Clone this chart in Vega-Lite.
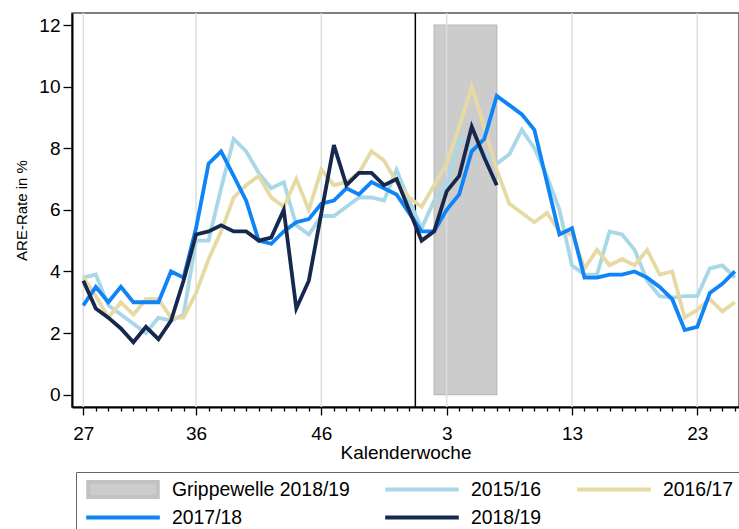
{
  "$schema": "https://vega.github.io/schema/vega-lite/v6.json",
  "width": 667,
  "height": 394,
  "autosize": "none",
  "padding": {"left": 72, "top": 13, "right": 0, "bottom": 122},
  "config": {
    "font": "Liberation Sans",
    "view": {"stroke": "#555555", "strokeWidth": 1.5}
  },
  "layer": [
    {
      "data": {"values": [{"i": 28, "i2": 33, "v": 0, "v2": 12}]},
      "mark": {"type": "rect", "fill": "#cccccc", "stroke": "#b9b9b9", "strokeWidth": 1.2},
      "encoding": {
        "x": {"field": "i", "type": "quantitative", "scale": {"domain": [-0.9, 52.33], "nice": false, "zero": false}, "title": "Kalenderwoche",
          "axis": {
            "values": [0,1,2,3,4,5,6,7,8,9,10,11,12,13,14,15,16,17,18,19,20,21,22,23,24,25,26,27,28,29,30,31,32,33,34,35,36,37,38,39,40,41,42,43,44,45,46,47,48,49,50,51,52],
            "labelExpr": "indexof([0,9,19,29,39,49], datum.value) >= 0 ? (datum.value <= 25 ? datum.value + 27 : datum.value - 26) : ''",
            "tickSize": {"condition": {"test": "indexof([0,9,19,29,39,49], datum.value) >= 0", "value": 8}, "value": 4},
            "grid": false, "domainColor": "black", "domainWidth": 2, "tickColor": "black", "tickWidth": 1.3,
            "labelFontSize": 19, "labelColor": "black", "labelPadding": 9, "labelOverlap": false, "labelFlush": false,
            "titleFontSize": 19, "titleFontWeight": "normal", "titleColor": "black", "titlePadding": 0
          }
        },
        "x2": {"field": "i2"},
        "y": {"field": "v", "type": "quantitative", "scale": {"domain": [-0.4, 12.39], "nice": false, "zero": false}, "title": "ARE-Rate in %",
          "axis": {
            "values": [0,2,4,6,8,10,12],
            "grid": false, "domainColor": "black", "domainWidth": 2, "tickColor": "black", "tickWidth": 1.3, "tickSize": 9,
            "labelFontSize": 19, "labelColor": "black", "labelPadding": 3,
            "titleFontSize": 15, "titleFontWeight": "normal", "titleColor": "black", "titlePadding": 9
          }
        },
        "y2": {"field": "v2"}
      }
    },
    {
      "data": {"values": [{"i": 0}, {"i": 9}, {"i": 19}, {"i": 29}, {"i": 39}, {"i": 49}]},
      "mark": {"type": "rule", "color": "#dddddd", "strokeWidth": 1.5},
      "encoding": {
        "x": {"field": "i", "type": "quantitative", "scale": {"domain": [-0.9, 52.33], "nice": false, "zero": false}, "title": "Kalenderwoche",
          "axis": {
            "values": [0,1,2,3,4,5,6,7,8,9,10,11,12,13,14,15,16,17,18,19,20,21,22,23,24,25,26,27,28,29,30,31,32,33,34,35,36,37,38,39,40,41,42,43,44,45,46,47,48,49,50,51,52],
            "labelExpr": "indexof([0,9,19,29,39,49], datum.value) >= 0 ? (datum.value <= 25 ? datum.value + 27 : datum.value - 26) : ''",
            "tickSize": {"condition": {"test": "indexof([0,9,19,29,39,49], datum.value) >= 0", "value": 8}, "value": 4},
            "grid": false, "domainColor": "black", "domainWidth": 2, "tickColor": "black", "tickWidth": 1.3,
            "labelFontSize": 19, "labelColor": "black", "labelPadding": 9, "labelOverlap": false, "labelFlush": false,
            "titleFontSize": 19, "titleFontWeight": "normal", "titleColor": "black", "titlePadding": 0
          }
        }
      }
    },
    {
      "data": {"values": [{"i": 26.5}]},
      "mark": {"type": "rule", "color": "black", "strokeWidth": 1.5},
      "encoding": {
        "x": {"field": "i", "type": "quantitative", "scale": {"domain": [-0.9, 52.33], "nice": false, "zero": false}, "title": "Kalenderwoche",
          "axis": {
            "values": [0,1,2,3,4,5,6,7,8,9,10,11,12,13,14,15,16,17,18,19,20,21,22,23,24,25,26,27,28,29,30,31,32,33,34,35,36,37,38,39,40,41,42,43,44,45,46,47,48,49,50,51,52],
            "labelExpr": "indexof([0,9,19,29,39,49], datum.value) >= 0 ? (datum.value <= 25 ? datum.value + 27 : datum.value - 26) : ''",
            "tickSize": {"condition": {"test": "indexof([0,9,19,29,39,49], datum.value) >= 0", "value": 8}, "value": 4},
            "grid": false, "domainColor": "black", "domainWidth": 2, "tickColor": "black", "tickWidth": 1.3,
            "labelFontSize": 19, "labelColor": "black", "labelPadding": 9, "labelOverlap": false, "labelFlush": false,
            "titleFontSize": 19, "titleFontWeight": "normal", "titleColor": "black", "titlePadding": 0
          }
        }
      }
    },
    {
      "data": {"values": [
        {"s": "2015/16", "i": 0, "v": 3.8}, {"s": "2015/16", "i": 1, "v": 3.9}, {"s": "2015/16", "i": 2, "v": 2.9}, {"s": "2015/16", "i": 3, "v": 2.6}, {"s": "2015/16", "i": 4, "v": 2.3}, {"s": "2015/16", "i": 5, "v": 2.0}, {"s": "2015/16", "i": 6, "v": 2.5}, {"s": "2015/16", "i": 7, "v": 2.4}, {"s": "2015/16", "i": 8, "v": 2.6}, {"s": "2015/16", "i": 9, "v": 5.0},
        {"s": "2015/16", "i": 10, "v": 5.0}, {"s": "2015/16", "i": 11, "v": 6.7}, {"s": "2015/16", "i": 12, "v": 8.3}, {"s": "2015/16", "i": 13, "v": 7.9}, {"s": "2015/16", "i": 14, "v": 7.2}, {"s": "2015/16", "i": 15, "v": 6.7}, {"s": "2015/16", "i": 16, "v": 6.9}, {"s": "2015/16", "i": 17, "v": 5.5}, {"s": "2015/16", "i": 18, "v": 5.2}, {"s": "2015/16", "i": 19, "v": 5.8},
        {"s": "2015/16", "i": 20, "v": 5.8}, {"s": "2015/16", "i": 21, "v": 6.1}, {"s": "2015/16", "i": 22, "v": 6.4}, {"s": "2015/16", "i": 23, "v": 6.4}, {"s": "2015/16", "i": 24, "v": 6.3}, {"s": "2015/16", "i": 25, "v": 7.3}, {"s": "2015/16", "i": 26, "v": 6.3}, {"s": "2015/16", "i": 27, "v": 5.4}, {"s": "2015/16", "i": 28, "v": 6.3}, {"s": "2015/16", "i": 29, "v": 6.8},
        {"s": "2015/16", "i": 30, "v": 8.3}, {"s": "2015/16", "i": 31, "v": 8.0}, {"s": "2015/16", "i": 32, "v": 7.8}, {"s": "2015/16", "i": 33, "v": 7.5}, {"s": "2015/16", "i": 34, "v": 7.8}, {"s": "2015/16", "i": 35, "v": 8.6}, {"s": "2015/16", "i": 36, "v": 8.0}, {"s": "2015/16", "i": 37, "v": 7.1}, {"s": "2015/16", "i": 38, "v": 6.0}, {"s": "2015/16", "i": 39, "v": 4.2},
        {"s": "2015/16", "i": 40, "v": 3.9}, {"s": "2015/16", "i": 41, "v": 3.9}, {"s": "2015/16", "i": 42, "v": 5.3}, {"s": "2015/16", "i": 43, "v": 5.2}, {"s": "2015/16", "i": 44, "v": 4.7}, {"s": "2015/16", "i": 45, "v": 3.7}, {"s": "2015/16", "i": 46, "v": 3.2}, {"s": "2015/16", "i": 47, "v": 3.15}, {"s": "2015/16", "i": 48, "v": 3.2}, {"s": "2015/16", "i": 49, "v": 3.2},
        {"s": "2015/16", "i": 50, "v": 4.1}, {"s": "2015/16", "i": 51, "v": 4.2}, {"s": "2015/16", "i": 52, "v": 3.8},

        {"s": "2016/17", "i": 0, "v": 3.8}, {"s": "2016/17", "i": 1, "v": 3.2}, {"s": "2016/17", "i": 2, "v": 2.5}, {"s": "2016/17", "i": 3, "v": 3.0}, {"s": "2016/17", "i": 4, "v": 2.6}, {"s": "2016/17", "i": 5, "v": 3.1}, {"s": "2016/17", "i": 6, "v": 3.1}, {"s": "2016/17", "i": 7, "v": 2.5}, {"s": "2016/17", "i": 8, "v": 2.5}, {"s": "2016/17", "i": 9, "v": 3.3},
        {"s": "2016/17", "i": 10, "v": 4.4}, {"s": "2016/17", "i": 11, "v": 5.3}, {"s": "2016/17", "i": 12, "v": 6.4}, {"s": "2016/17", "i": 13, "v": 6.8}, {"s": "2016/17", "i": 14, "v": 7.1}, {"s": "2016/17", "i": 15, "v": 6.4}, {"s": "2016/17", "i": 16, "v": 6.1}, {"s": "2016/17", "i": 17, "v": 7.0}, {"s": "2016/17", "i": 18, "v": 6.0}, {"s": "2016/17", "i": 19, "v": 7.3},
        {"s": "2016/17", "i": 20, "v": 6.8}, {"s": "2016/17", "i": 21, "v": 6.9}, {"s": "2016/17", "i": 22, "v": 7.2}, {"s": "2016/17", "i": 23, "v": 7.9}, {"s": "2016/17", "i": 24, "v": 7.6}, {"s": "2016/17", "i": 25, "v": 6.9}, {"s": "2016/17", "i": 26, "v": 6.4}, {"s": "2016/17", "i": 27, "v": 6.1}, {"s": "2016/17", "i": 28, "v": 6.8}, {"s": "2016/17", "i": 29, "v": 7.5},
        {"s": "2016/17", "i": 30, "v": 8.7}, {"s": "2016/17", "i": 31, "v": 10.0}, {"s": "2016/17", "i": 32, "v": 8.7}, {"s": "2016/17", "i": 33, "v": 7.3}, {"s": "2016/17", "i": 34, "v": 6.2}, {"s": "2016/17", "i": 35, "v": 5.9}, {"s": "2016/17", "i": 36, "v": 5.6}, {"s": "2016/17", "i": 37, "v": 5.9}, {"s": "2016/17", "i": 38, "v": 5.3}, {"s": "2016/17", "i": 39, "v": 5.2},
        {"s": "2016/17", "i": 40, "v": 4.1}, {"s": "2016/17", "i": 41, "v": 4.7}, {"s": "2016/17", "i": 42, "v": 4.2}, {"s": "2016/17", "i": 43, "v": 4.4}, {"s": "2016/17", "i": 44, "v": 4.2}, {"s": "2016/17", "i": 45, "v": 4.7}, {"s": "2016/17", "i": 46, "v": 3.9}, {"s": "2016/17", "i": 47, "v": 4.0}, {"s": "2016/17", "i": 48, "v": 2.5}, {"s": "2016/17", "i": 49, "v": 2.75},
        {"s": "2016/17", "i": 50, "v": 3.1}, {"s": "2016/17", "i": 51, "v": 2.7}, {"s": "2016/17", "i": 52, "v": 3.0},

        {"s": "2017/18", "i": 0, "v": 2.9}, {"s": "2017/18", "i": 1, "v": 3.5}, {"s": "2017/18", "i": 2, "v": 3.0}, {"s": "2017/18", "i": 3, "v": 3.5}, {"s": "2017/18", "i": 4, "v": 3.0}, {"s": "2017/18", "i": 5, "v": 3.0}, {"s": "2017/18", "i": 6, "v": 3.0}, {"s": "2017/18", "i": 7, "v": 4.0}, {"s": "2017/18", "i": 8, "v": 3.8}, {"s": "2017/18", "i": 9, "v": 5.4},
        {"s": "2017/18", "i": 10, "v": 7.5}, {"s": "2017/18", "i": 11, "v": 7.9}, {"s": "2017/18", "i": 12, "v": 7.1}, {"s": "2017/18", "i": 13, "v": 6.3}, {"s": "2017/18", "i": 14, "v": 5.0}, {"s": "2017/18", "i": 15, "v": 4.9}, {"s": "2017/18", "i": 16, "v": 5.3}, {"s": "2017/18", "i": 17, "v": 5.6}, {"s": "2017/18", "i": 18, "v": 5.7}, {"s": "2017/18", "i": 19, "v": 6.2},
        {"s": "2017/18", "i": 20, "v": 6.3}, {"s": "2017/18", "i": 21, "v": 6.7}, {"s": "2017/18", "i": 22, "v": 6.5}, {"s": "2017/18", "i": 23, "v": 6.9}, {"s": "2017/18", "i": 24, "v": 6.7}, {"s": "2017/18", "i": 25, "v": 6.5}, {"s": "2017/18", "i": 26, "v": 5.9}, {"s": "2017/18", "i": 27, "v": 5.3}, {"s": "2017/18", "i": 28, "v": 5.3}, {"s": "2017/18", "i": 29, "v": 6.0},
        {"s": "2017/18", "i": 30, "v": 6.5}, {"s": "2017/18", "i": 31, "v": 7.9}, {"s": "2017/18", "i": 32, "v": 8.3}, {"s": "2017/18", "i": 33, "v": 9.7}, {"s": "2017/18", "i": 34, "v": 9.4}, {"s": "2017/18", "i": 35, "v": 9.1}, {"s": "2017/18", "i": 36, "v": 8.6}, {"s": "2017/18", "i": 37, "v": 6.9}, {"s": "2017/18", "i": 38, "v": 5.2}, {"s": "2017/18", "i": 39, "v": 5.4},
        {"s": "2017/18", "i": 40, "v": 3.8}, {"s": "2017/18", "i": 41, "v": 3.8}, {"s": "2017/18", "i": 42, "v": 3.9}, {"s": "2017/18", "i": 43, "v": 3.9}, {"s": "2017/18", "i": 44, "v": 4.0}, {"s": "2017/18", "i": 45, "v": 3.8}, {"s": "2017/18", "i": 46, "v": 3.5}, {"s": "2017/18", "i": 47, "v": 3.1}, {"s": "2017/18", "i": 48, "v": 2.1}, {"s": "2017/18", "i": 49, "v": 2.2},
        {"s": "2017/18", "i": 50, "v": 3.3}, {"s": "2017/18", "i": 51, "v": 3.6}, {"s": "2017/18", "i": 52, "v": 4.0},

        {"s": "2018/19", "i": 0, "v": 3.7}, {"s": "2018/19", "i": 1, "v": 2.8}, {"s": "2018/19", "i": 2, "v": 2.5}, {"s": "2018/19", "i": 3, "v": 2.15}, {"s": "2018/19", "i": 4, "v": 1.7}, {"s": "2018/19", "i": 5, "v": 2.2}, {"s": "2018/19", "i": 6, "v": 1.8}, {"s": "2018/19", "i": 7, "v": 2.4}, {"s": "2018/19", "i": 8, "v": 3.7}, {"s": "2018/19", "i": 9, "v": 5.2},
        {"s": "2018/19", "i": 10, "v": 5.3}, {"s": "2018/19", "i": 11, "v": 5.5}, {"s": "2018/19", "i": 12, "v": 5.3}, {"s": "2018/19", "i": 13, "v": 5.3}, {"s": "2018/19", "i": 14, "v": 5.0}, {"s": "2018/19", "i": 15, "v": 5.1}, {"s": "2018/19", "i": 16, "v": 6.0}, {"s": "2018/19", "i": 17, "v": 2.8}, {"s": "2018/19", "i": 18, "v": 3.7}, {"s": "2018/19", "i": 19, "v": 5.9},
        {"s": "2018/19", "i": 20, "v": 8.1}, {"s": "2018/19", "i": 21, "v": 6.8}, {"s": "2018/19", "i": 22, "v": 7.2}, {"s": "2018/19", "i": 23, "v": 7.2}, {"s": "2018/19", "i": 24, "v": 6.8}, {"s": "2018/19", "i": 25, "v": 7.0}, {"s": "2018/19", "i": 26, "v": 6.0}, {"s": "2018/19", "i": 27, "v": 5.0}, {"s": "2018/19", "i": 28, "v": 5.3}, {"s": "2018/19", "i": 29, "v": 6.6},
        {"s": "2018/19", "i": 30, "v": 7.1}, {"s": "2018/19", "i": 31, "v": 8.7}, {"s": "2018/19", "i": 32, "v": 7.7}, {"s": "2018/19", "i": 33, "v": 6.8}
      ]},
      "mark": {"type": "line", "strokeWidth": 3.8},
      "encoding": {
        "x": {"field": "i", "type": "quantitative", "scale": {"domain": [-0.9, 52.33], "nice": false, "zero": false}, "title": "Kalenderwoche",
          "axis": {
            "values": [0,1,2,3,4,5,6,7,8,9,10,11,12,13,14,15,16,17,18,19,20,21,22,23,24,25,26,27,28,29,30,31,32,33,34,35,36,37,38,39,40,41,42,43,44,45,46,47,48,49,50,51,52],
            "labelExpr": "indexof([0,9,19,29,39,49], datum.value) >= 0 ? (datum.value <= 25 ? datum.value + 27 : datum.value - 26) : ''",
            "tickSize": {"condition": {"test": "indexof([0,9,19,29,39,49], datum.value) >= 0", "value": 8}, "value": 4},
            "grid": false, "domainColor": "black", "domainWidth": 2, "tickColor": "black", "tickWidth": 1.3,
            "labelFontSize": 19, "labelColor": "black", "labelPadding": 9, "labelOverlap": false, "labelFlush": false,
            "titleFontSize": 19, "titleFontWeight": "normal", "titleColor": "black", "titlePadding": 0
          }
        },
        "y": {"field": "v", "type": "quantitative", "scale": {"domain": [-0.4, 12.39], "nice": false, "zero": false}, "title": "ARE-Rate in %",
          "axis": {
            "values": [0,2,4,6,8,10,12],
            "grid": false, "domainColor": "black", "domainWidth": 2, "tickColor": "black", "tickWidth": 1.3, "tickSize": 9,
            "labelFontSize": 19, "labelColor": "black", "labelPadding": 3,
            "titleFontSize": 15, "titleFontWeight": "normal", "titleColor": "black", "titlePadding": 9
          }
        },
        "color": {
          "field": "s",
          "type": "nominal",
          "scale": {
            "domain": ["Grippewelle 2018/19", "2015/16", "2016/17", "2017/18", "2018/19"],
            "range": ["#c2c2c2", "#a8d7e7", "#e6d9a3", "#0f84f7", "#17284f"]
          },
          "legend": {
            "orient": "none",
            "legendX": 4,
            "legendY": 459,
            "direction": "horizontal",
            "columns": 3,
            "title": null,
            "symbolType": "stroke",
            "symbolSize": 5417,
            "symbolStrokeWidth": 4,
            "symbolOffset": 0,
            "clipHeight": 19,
            "labelFontSize": 19.4,
            "labelColor": "black",
            "labelOffset": 10,
            "labelLimit": 400,
            "columnPadding": 33,
            "rowPadding": 8,
            "padding": 8,
            "strokeColor": "#666666",
            "fillColor": "white",
            "encode": {
              "symbols": {
                "update": {
                  "shape": {"signal": "datum.value === 'Grippewelle 2018/19' ? 'M-0.945,-0.205H0.945V0.205H-0.945Z' : 'stroke'"},
                  "fill": {"signal": "datum.value === 'Grippewelle 2018/19' ? '#cccccc' : 'transparent'"}
                }
              }
            }
          }
        }
      }
    }
  ]
}
